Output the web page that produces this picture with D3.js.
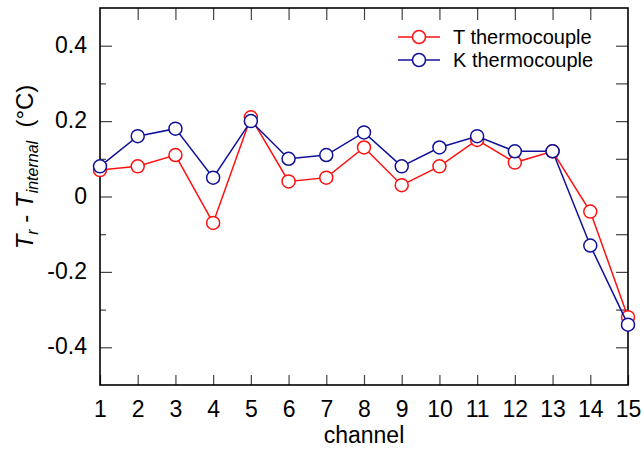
<!DOCTYPE html>
<html>
<head>
<meta charset="utf-8">
<script src="https://cdn.jsdelivr.net/npm/d3@7"></script>
<style>
  body { margin: 0; background: #fff; }
  text { font-family: Arial, "Liberation Sans", sans-serif; fill: #000; }
</style>
</head>
<body>
<svg id="chart" width="644" height="450"></svg>
<script>
// values
var channels = [1,2,3,4,5,6,7,8,9,10,11,12,13,14,15];
var tCouple  = [0.07,0.08,0.11,-0.07,0.21,0.04,0.05,0.13,0.03,0.08,0.15,0.09,0.12,-0.04,-0.32];
var kCouple  = [0.08,0.16,0.18,0.05,0.20,0.10,0.11,0.17,0.08,0.13,0.16,0.12,0.12,-0.13,-0.34];
var yMajor = [-0.4,-0.2,0,0.2,0.4];
var yMinor = [-0.3,-0.1,0.1,0.3];

var series = [
    { name: 'T thermocouple', values: tCouple, colour: '#ff1010' },
    { name: 'K thermocouple', values: kCouple, colour: '#10109a' }
];

var m = { left: 100, right: 16, top: 8, bottom: 65 };
var W = 644, H = 450;
var svg = d3.select('#chart');

var x = d3.scaleLinear().domain([1,15]).range([m.left, W - m.right]);
var y = d3.scaleLinear().domain([-0.5,0.5]).range([H - m.bottom, m.top]);

function fmt(v) { return v == 0 ? '0' : d3.format('.1f')(v).replace('\u2212', '-'); } // plain hyphen like the original

// ---- axes, ticks point inward
var gAx = svg.append('g');

gAx.append('g')
    .attr('transform', `translate(0,${H - m.bottom})`)
    .call(d3.axisBottom(x).tickValues(channels).tickSize(-10).tickPadding(16).tickFormat(d3.format('d')))
    .call(g => g.select('.domain').remove())
    .call(g => g.selectAll('text').attr('font-size', 23));

gAx.append('g')
    .attr('transform', `translate(0,${m.top})`)
    .call(d3.axisTop(x).tickValues(channels.slice(1,-1)).tickSize(-12).tickFormat(''))
    .call(g => g.select('.domain').remove());

gAx.append('g')
    .attr('transform', `translate(${m.left},0)`)
    .call(d3.axisLeft(y).tickValues(yMajor).tickSize(-12).tickPadding(13).tickFormat(fmt))
    .call(g => g.select('.domain').remove())
    .call(g => g.selectAll('text').attr('font-size', 23).attr('dy', '0.29em'));

gAx.append('g')
    .attr('transform', `translate(${m.left},0)`)
    .call(d3.axisLeft(y).tickValues(yMinor).tickSize(-6).tickFormat(''))
    .call(g => g.select('.domain').remove());

gAx.append('g')
    .attr('transform', `translate(${W - m.right},0)`)
    .call(d3.axisRight(y).tickValues(yMajor.concat(yMinor)).tickSize(-12).tickFormat(''))
    .call(g => g.select('.domain').remove());

gAx.selectAll('.tick line').attr('stroke', '#444').attr('stroke-width', 1.2);

// frame
svg.append('rect')
    .attr('x', m.left).attr('y', m.top)
    .attr('width', W - m.left - m.right).attr('height', H - m.top - m.bottom)
    .attr('fill', 'none').attr('stroke', '#000').attr('stroke-width', 1.6);

// axis titles
svg.append('text')
    .attr('x', (m.left + W - m.right) / 2).attr('y', 443)
    .attr('text-anchor', 'middle').attr('font-size', 23)
    .text('channel');

var yt = svg.append('text')
    .attr('transform', 'translate(33,167) rotate(-90)')
    .attr('text-anchor', 'middle').attr('font-size', 24);
yt.append('tspan').attr('font-style', 'italic').text('T');
yt.append('tspan').attr('font-style', 'italic').attr('font-size', 16).attr('dy', 5).text('r');
yt.append('tspan').attr('dy', -5).text(' - ');
yt.append('tspan').attr('font-style', 'italic').text('T');
yt.append('tspan').attr('font-style', 'italic').attr('font-size', 16).attr('dy', 5).text('internal');
yt.append('tspan').attr('dy', -5).text('\u00a0\u00a0(°C)');

// ---- series
var line = d3.line().x((d,i) => x(channels[i])).y(d => y(d));

var gS = svg.selectAll('g.series')
    .data(series)
    .join('g').attr('class', 'series');

gS.append('path')
    .attr('d', d => line(d.values))
    .attr('fill', 'none')
    .attr('stroke', d => d.colour)
    .attr('stroke-width', 1.5);

gS.each(function(s) {
    d3.select(this).selectAll('circle')
        .data(s.values)
        .join('circle')
        .attr('cx', (d,i) => x(channels[i]))
        .attr('cy', d => y(d))
        .attr('r', 6.5)
        .attr('fill', '#fff')
        .attr('stroke', s.colour)
        .attr('stroke-width', 1.5);
});

// ---- legend
var gL = svg.append('g').selectAll('g')
    .data(series)
    .join('g')
    .attr('transform', (d,i) => `translate(398,${37 + i * 23})`);

gL.append('line').attr('x1', 0).attr('x2', 42)
    .attr('stroke', d => d.colour).attr('stroke-width', 1.5);
gL.append('circle').attr('cx', 21).attr('r', 6.5)
    .attr('fill', '#fff').attr('stroke', d => d.colour).attr('stroke-width', 1.5);
gL.append('text').attr('x', 55).attr('dy', '0.35em')
    .attr('font-size', 20).text(d => d.name);
</script>
</body>
</html>
